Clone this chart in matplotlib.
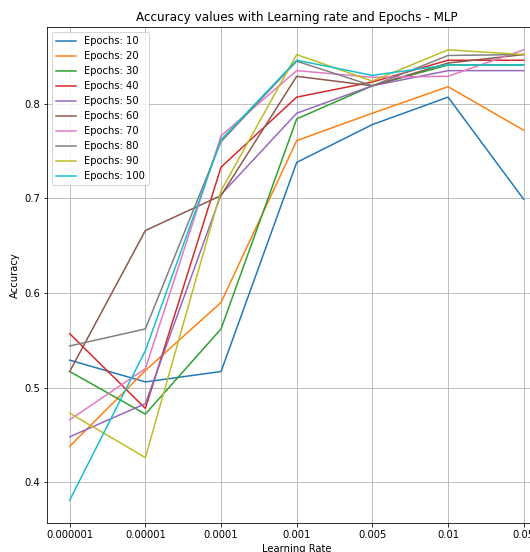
import matplotlib
matplotlib.use('Agg')
import matplotlib.pyplot as plt

learning_rates = ['0.000001', '0.00001', '0.0001', '0.001', '0.005', '0.01', '0.05']
epochs = [10, 20, 30, 40, 50, 60, 70, 80, 90, 100]

# accuracy per epoch setting, one value per learning rate
acc_10  = [0.529, 0.506, 0.517, 0.738, 0.778, 0.807, 0.699]
acc_20  = [0.438, 0.518, 0.590, 0.761, 0.790, 0.818, 0.772]
acc_30  = [0.517, 0.472, 0.562, 0.784, 0.819, 0.841, 0.841]
acc_40  = [0.557, 0.478, 0.733, 0.807, 0.823, 0.846, 0.846]
acc_50  = [0.448, 0.483, 0.704, 0.790, 0.819, 0.835, 0.835]
acc_60  = [0.517, 0.666, 0.703, 0.829, 0.819, 0.843, 0.852]
acc_70  = [0.466, 0.520, 0.766, 0.835, 0.828, 0.829, 0.857]
acc_80  = [0.544, 0.562, 0.760, 0.845, 0.819, 0.851, 0.852]
acc_90  = [0.473, 0.426, 0.708, 0.852, 0.824, 0.857, 0.852]
acc_100 = [0.381, 0.539, 0.762, 0.846, 0.830, 0.841, 0.841]

accuracies = [acc_10, acc_20, acc_30, acc_40, acc_50,
              acc_60, acc_70, acc_80, acc_90, acc_100]

dpi = 72
fig = plt.figure(figsize=(530/dpi, 552/dpi), dpi=dpi)
# axes runs past the right edge, as in the cropped original
ax = fig.add_axes([47/530, 29.3/552, 499.4/530, 495.4/552])

for ep, acc in zip(epochs, accuracies):
  ax.plot(learning_rates, acc, label='Epochs: %d' % ep)

ax.set_title('Accuracy values with Learning rate and Epochs - MLP')
ax.set_xlabel('Learning Rate')
ax.set_ylabel('Accuracy')
ax.grid(True)
ax.legend(loc='upper left')

plt.savefig('out.png', dpi=dpi)
